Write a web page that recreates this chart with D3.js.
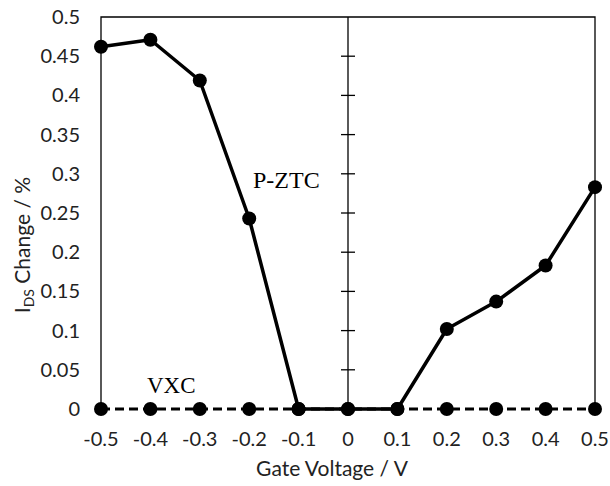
<!DOCTYPE html>
<html>
<head>
<meta charset="utf-8">
<script src="https://cdn.jsdelivr.net/npm/d3@7"></script>
<style>
  body { margin: 0; background: #fff; }
  text { font-family: Lato, "Open Sans", sans-serif; }
  text.serif { font-family: "Liberation Serif", serif; }
</style>
</head>
<body>
<svg id="chart" width="610" height="486"></svg>
<script>
var gateVoltage = [-0.5, -0.4, -0.3, -0.2, -0.1, 0, 0.1, 0.2, 0.3, 0.4, 0.5];
var pztc = [0.462, 0.471, 0.419, 0.243, 0, 0, 0, 0.102, 0.137, 0.183, 0.283];
var vxc = [0, 0, 0, 0, 0, 0, 0, 0, 0, 0, 0];
var xTicks = [-0.5, -0.4, -0.3, -0.2, -0.1, 0, 0.1, 0.2, 0.3, 0.4, 0.5];
var yTicks = [0, 0.05, 0.1, 0.15, 0.2, 0.25, 0.3, 0.35, 0.4, 0.45, 0.5];

var svg = d3.select('#chart');
var pLeft = 101, pRight = 595, pTop = 17, pBottom = 409;

var x = d3.scaleLinear().domain([-0.5, 0.5]).range([pLeft, pRight]);
var y = d3.scaleLinear().domain([0, 0.5]).range([pBottom, pTop]);

// plot frame
svg.append('path')
  .attr('d', 'M' + pLeft + ',' + pBottom + 'V' + pTop + 'H' + pRight + 'V' + pBottom)
  .attr('fill', 'none').attr('stroke', '#000').attr('stroke-width', 1.3);

// center y axis with crossing ticks
svg.append('line')
  .attr('x1', x(0)).attr('x2', x(0)).attr('y1', pTop).attr('y2', pBottom)
  .attr('stroke', '#000').attr('stroke-width', 1.3);
svg.selectAll('.ctick').data(yTicks.slice(1, -1)).enter().append('line')
  .attr('x1', x(0) - 7).attr('x2', x(0) + 7)
  .attr('y1', function(d){ return y(d); }).attr('y2', function(d){ return y(d); })
  .attr('stroke', '#000').attr('stroke-width', 1.3);

// tick labels
svg.selectAll('.ylab').data(yTicks).enter().append('text')
  .attr('x', 80).attr('y', function(d){ return y(d) + 7; })
  .attr('text-anchor', 'end').attr('font-size', 20).attr('fill', '#222')
  .text(function(d){ return String(d); });
svg.selectAll('.xlab').data(xTicks).enter().append('text')
  .attr('x', function(d){ return x(d); }).attr('y', 446)
  .attr('text-anchor', 'middle').attr('font-size', 20).attr('fill', '#222')
  .text(function(d){ return String(d); });

// axis titles
svg.append('text')
  .attr('x', 332).attr('y', 476).attr('text-anchor', 'middle')
  .attr('font-size', 21).attr('fill', '#222').text('Gate Voltage / V');
var yt = svg.append('text')
  .attr('transform', 'translate(30,245) rotate(-90)')
  .attr('text-anchor', 'middle').attr('font-size', 21).attr('fill', '#222');
yt.append('tspan').text('I');
yt.append('tspan').attr('font-size', 14).attr('dy', 4).text('DS');
yt.append('tspan').attr('dy', -4).text(' Change / %');

var line = d3.line()
  .x(function(d, i){ return x(gateVoltage[i]); })
  .y(function(d){ return y(d); });

// VXC dashed
svg.append('path').datum(vxc)
  .attr('d', line).attr('fill', 'none').attr('stroke', '#000')
  .attr('stroke-width', 3).attr('stroke-dasharray', '9,5');
svg.selectAll('.vdot').data(vxc).enter().append('circle')
  .attr('cx', function(d, i){ return x(gateVoltage[i]); })
  .attr('cy', function(d){ return y(d); }).attr('r', 7).attr('fill', '#000');

// P-ZTC solid
svg.append('path').datum(pztc)
  .attr('d', line).attr('fill', 'none').attr('stroke', '#000')
  .attr('stroke-width', 3.5).attr('stroke-linejoin', 'round');
svg.selectAll('.pdot').data(pztc).enter().append('circle')
  .attr('cx', function(d, i){ return x(gateVoltage[i]); })
  .attr('cy', function(d){ return y(d); }).attr('r', 7).attr('fill', '#000');

// series labels
svg.append('text').attr('class', 'serif').attr('x', 253).attr('y', 188)
  .attr('font-size', 24).text('P-ZTC');
svg.append('text').attr('class', 'serif').attr('x', 147).attr('y', 393)
  .attr('font-size', 23).text('VXC');
</script>
</body>
</html>
